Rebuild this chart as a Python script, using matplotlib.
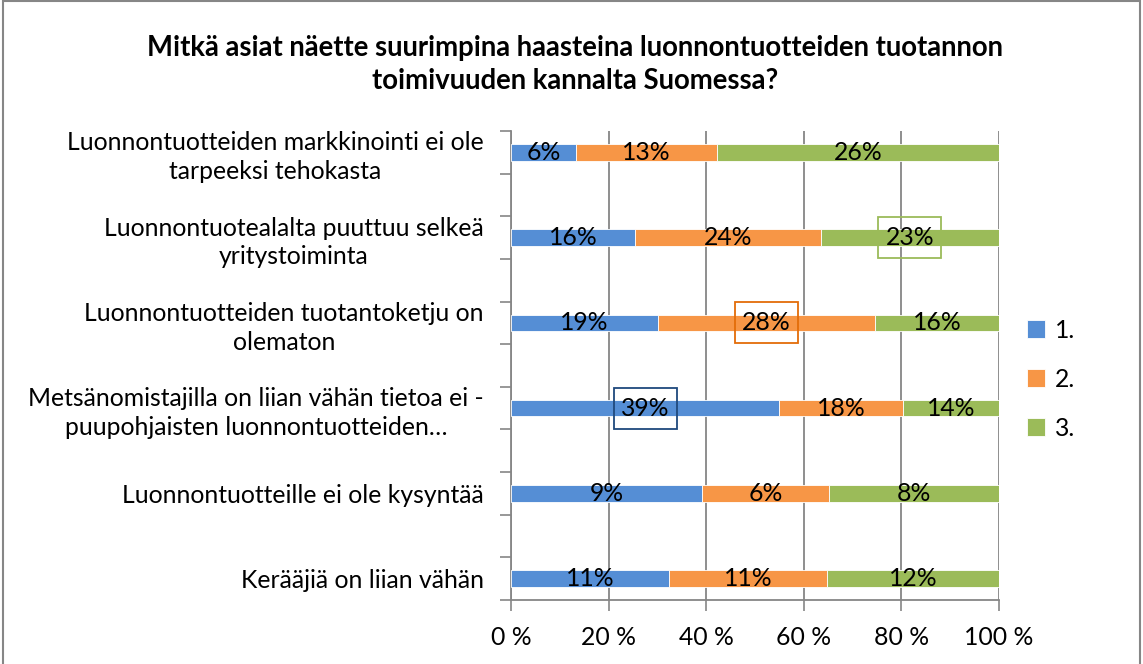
import numpy as np
import matplotlib
matplotlib.use("Agg")
import matplotlib.pyplot as plt
from matplotlib.patches import Rectangle

plt.rcParams["font.family"] = ["Lato", "DejaVu Sans"]

# -----------------------------
# Data (as shown in data labels, %)
# -----------------------------
categories = [
    "Luonnontuotteiden markkinointi ei ole\ntarpeeksi tehokasta",
    "Luonnontuotealalta puuttuu selkeä\nyritystoiminta",
    "Luonnontuotteiden tuotantoketju on\nolematon",
    "Metsänomistajilla on liian vähän tietoa ei -\npuupohjaisten luonnontuotteiden…",
    "Luonnontuotteille ei ole kysyntää",
    "Kerääjiä on liian vähän",
]
series_names = ["1.", "2.", "3."]
s1 = [6, 16, 19, 39, 9, 11]
s2 = [13, 24, 28, 18, 6, 11]
s3 = [26, 23, 16, 14, 8, 12]
# highlighted labels: (row, series)
highlighted = [(1, 2), (2, 1), (3, 0)]

colors = ["#558ED5", "#F79646", "#9BBB59"]
box_colors = ["#1F497D", "#E36C09", "#9BBB59"]
title = "Mitkä asiat näette suurimpina haasteina luonnontuotteiden tuotannon\ntoimivuuden kannalta Suomessa?"

# -----------------------------
# Plot
# -----------------------------
vals = np.array([s1, s2, s3], dtype=float)
shares = vals / vals.sum(axis=0) * 100

fig = plt.figure(figsize=(11.43, 6.64), dpi=100)
ax = fig.add_axes([0.4471, 0.0964, 0.4269, 0.7063])

ypos = np.arange(len(categories)) * 2  # blank slot between categories
left = np.zeros(len(categories))
bar_h = 0.39
fs = 17.8
for i in range(3):
    ax.barh(ypos, shares[i], left=left, height=bar_h, color=colors[i],
            edgecolor="white", linewidth=0.6, label=series_names[i], zorder=3)
    for j in range(len(categories)):
        cx = left[j] + shares[i][j] / 2
        ax.text(cx, ypos[j], f"{int(vals[i][j])}%", ha="center", va="center",
                fontsize=fs, color="black", zorder=5)
        if (j, i) in highlighted:
            ax.add_patch(Rectangle((cx - 6.45, ypos[j] - 0.48), 12.9, 0.96,
                                   fill=False, edgecolor=box_colors[i],
                                   linewidth=1.3, zorder=6))
    left += shares[i]

ax.set_xlim(0, 100)
ax.set_ylim(len(categories) * 2 - 1.5, -0.5)
ax.set_xticks(np.arange(0, 101, 20))
ax.set_xticklabels([f"{v} %" for v in range(0, 101, 20)], fontsize=fs)
ax.set_yticks(ypos)
ax.set_yticklabels(categories, fontsize=fs, multialignment="center",
                   linespacing=1.3)
ax.set_yticks(np.arange(-0.5, len(categories) * 2 - 1, 1), minor=True)
ax.tick_params(axis="y", which="major", length=0, pad=19.5)
ax.tick_params(axis="y", which="minor", length=8, color="#868686", width=1.2)
ax.tick_params(axis="x", length=8, color="#868686", width=1.2, pad=11)

ax.grid(axis="x", color="#868686", linewidth=1.3, zorder=0)
for s in ["top", "right"]:
    ax.spines[s].set_visible(False)
for s in ["left", "bottom"]:
    ax.spines[s].set_color("#868686")
    ax.spines[s].set_linewidth(1.3)

fig.text(0.503, 0.903, title, ha="center", va="center", fontsize=19.8,
         fontweight="bold", linespacing=1.35)

fig.legend(loc="center left", bbox_to_anchor=(0.888, 0.429), frameon=False,
           fontsize=fs, handlelength=0.7, handleheight=0.7,
           handletextpad=0.4, labelspacing=1.05, borderpad=0)

fig.patches.append(Rectangle((0.003, -0.01), 0.994, 1.008, transform=fig.transFigure,
                             fill=False, edgecolor="#868686", linewidth=1.5))

plt.savefig("out.png", dpi=100)
